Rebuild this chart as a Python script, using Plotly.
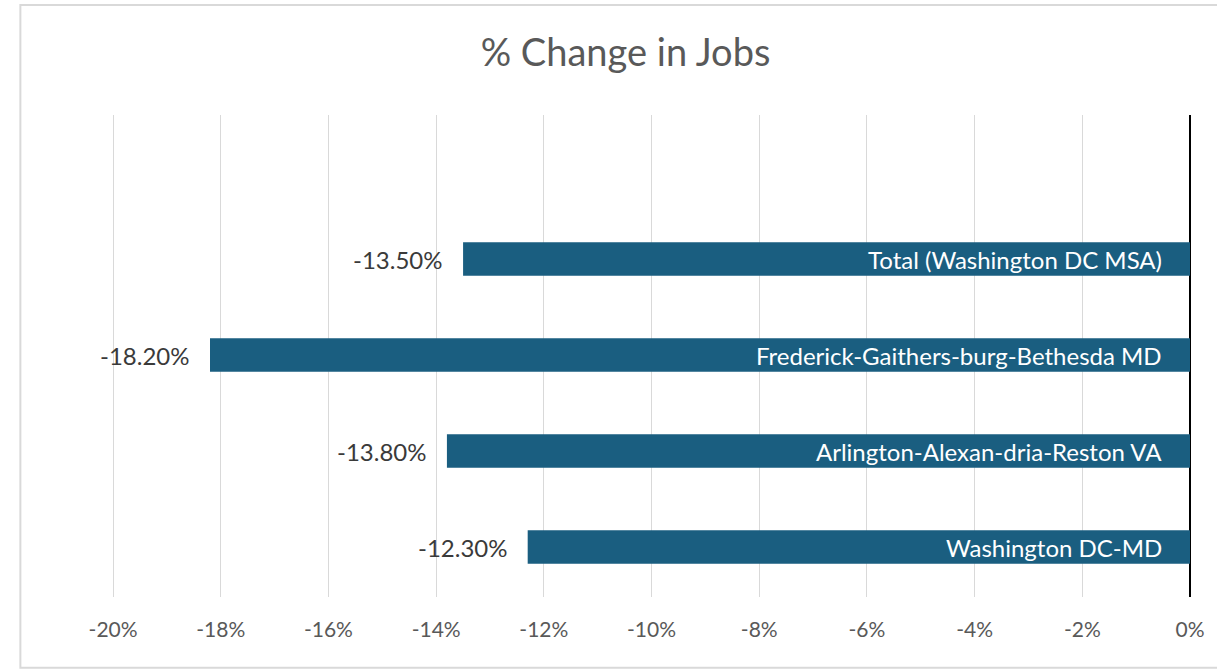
import plotly.graph_objects as go

categories = ["Washington DC-MD", "Arlington-Alexan-dria-Reston VA",
              "Frederick-Gaithers-burg-Bethesda MD", "Total (Washington DC MSA)"]
values = [-12.30, -13.80, -18.20, -13.50]
tick_vals = [-20, -18, -16, -14, -12, -10, -8, -6, -4, -2, 0]
tick_text = [f"{v}%" for v in tick_vals]

BAR = "#1a5e80"
FONT = "Lato, 'Open Sans', sans-serif"

fig = go.Figure()
fig.add_trace(go.Bar(
    y=categories, x=values, orientation="h",
    marker=dict(color=BAR, line=dict(width=0)),
    width=0.35, hoverinfo="skip",
))

annotations = []
for c, v in zip(categories, values):
    annotations.append(dict(x=v, y=c, xref="x", yref="y", text=f"{v:.2f}%",
                            showarrow=False, xanchor="right", xshift=-18,
                            font=dict(family=FONT, size=24, color="#3a3a3a")))
    annotations.append(dict(x=0, y=c, xref="x", yref="y", text=c,
                            showarrow=False, xanchor="right", xshift=-26,
                            font=dict(family=FONT, size=24, color="white")))

fig.update_layout(
    width=1217, height=670,
    margin=dict(l=112, r=19, t=115, b=73),
    paper_bgcolor="white", plot_bgcolor="white",
    showlegend=False,
    title=dict(text="% Change in Jobs", x=0.514, xanchor="center", y=0.922, yanchor="middle",
               font=dict(family=FONT, size=38, color="#595959")),
    xaxis=dict(range=[-20.02, 0], tickvals=tick_vals, ticktext=tick_text,
               showgrid=True, gridcolor="#d9d9d9", gridwidth=1,
               zeroline=True, zerolinecolor="#000000", zerolinewidth=1.5,
               showline=False, ticks="",
               tickfont=dict(family=FONT, size=21, color="#595959"),
               ticklabelstandoff=18),
    yaxis=dict(type="category", categoryorder="array", categoryarray=categories,
               range=[-0.52, 4.5], showticklabels=False, showgrid=False,
               zeroline=False, showline=False, ticks=""),
    annotations=annotations,
    shapes=[dict(type="rect", xref="paper", yref="paper",
                 x0=-0.085, x1=1.06, y0=-0.147, y1=1.228,
                 line=dict(color="#d9d9d9", width=2), fillcolor="rgba(0,0,0,0)",
                 layer="below")],
)

fig.write_html("out.html", config={"displayModeBar": False},
               post_script="document.body.style.margin='0px';document.body.style.overflow='hidden';")
